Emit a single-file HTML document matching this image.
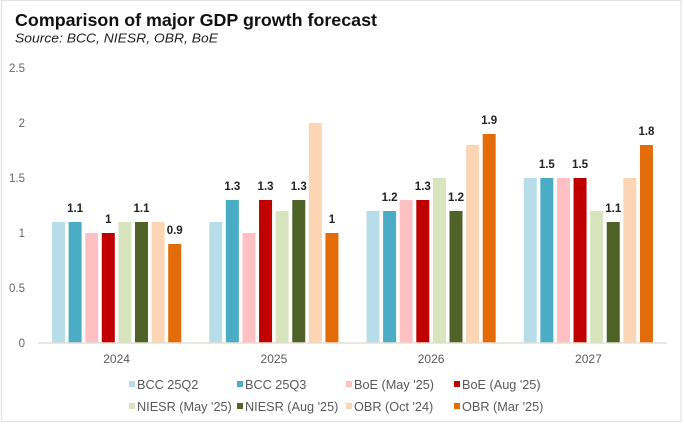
<!DOCTYPE html>
<html><head><meta charset="utf-8"><style>
html,body{margin:0;padding:0;background:#fff;}
svg{display:block;}
</style></head><body>
<svg width="684" height="426" viewBox="0 0 684 426" xmlns="http://www.w3.org/2000/svg" font-family="Liberation Sans, Arial, sans-serif">
<rect x="0" y="0" width="684" height="426" fill="#fff"/>
<rect x="1.5" y="0.5" width="679.5" height="421" fill="#fff" stroke="#e2e2e2" stroke-width="1.2"/>
<text x="15" y="26" font-size="17.4" font-weight="bold" fill="#111" textLength="362" lengthAdjust="spacingAndGlyphs">Comparison of major GDP growth forecast</text>
<text x="15" y="42.3" font-size="12.6" font-style="italic" fill="#222" textLength="203" lengthAdjust="spacingAndGlyphs">Source: BCC, NIESR, OBR, BoE</text>
<g font-size="11.5" fill="#666" text-anchor="end">
<text x="25" y="72">2.5</text>
<text x="25" y="127">2</text>
<text x="25" y="182">1.5</text>
<text x="25" y="237">1</text>
<text x="25" y="292">0.5</text>
<text x="25" y="347">0</text>
</g>
<g id="bars">
<!-- 2024 -->
<rect x="52" y="222" width="13" height="121" fill="#b7dde8"/>
<rect x="68.6" y="222" width="13" height="121" fill="#4bacc6"/>
<rect x="85.2" y="233" width="13" height="110" fill="#ffc0c4"/>
<rect x="101.8" y="233" width="13" height="110" fill="#c00000"/>
<rect x="118.4" y="222" width="13" height="121" fill="#d7e4bd"/>
<rect x="135" y="222" width="13" height="121" fill="#4f6228"/>
<rect x="151.6" y="222" width="13" height="121" fill="#fcd5b5"/>
<rect x="168.2" y="244" width="13" height="99" fill="#e36c09"/>
<!-- 2025 -->
<rect x="209.25" y="222" width="13" height="121" fill="#b7dde8"/>
<rect x="225.85" y="200" width="13" height="143" fill="#4bacc6"/>
<rect x="242.45" y="233" width="13" height="110" fill="#ffc0c4"/>
<rect x="259.05" y="200" width="13" height="143" fill="#c00000"/>
<rect x="275.65" y="211" width="13" height="132" fill="#d7e4bd"/>
<rect x="292.25" y="200" width="13" height="143" fill="#4f6228"/>
<rect x="308.85" y="123" width="13" height="220" fill="#fcd5b5"/>
<rect x="325.45" y="233" width="13" height="110" fill="#e36c09"/>
<!-- 2026 -->
<rect x="366.5" y="211" width="13" height="132" fill="#b7dde8"/>
<rect x="383.1" y="211" width="13" height="132" fill="#4bacc6"/>
<rect x="399.7" y="200" width="13" height="143" fill="#ffc0c4"/>
<rect x="416.3" y="200" width="13" height="143" fill="#c00000"/>
<rect x="432.9" y="178" width="13" height="165" fill="#d7e4bd"/>
<rect x="449.5" y="211" width="13" height="132" fill="#4f6228"/>
<rect x="466.1" y="145" width="13" height="198" fill="#fcd5b5"/>
<rect x="482.7" y="134" width="13" height="209" fill="#e36c09"/>
<!-- 2027 -->
<rect x="523.75" y="178" width="13" height="165" fill="#b7dde8"/>
<rect x="540.35" y="178" width="13" height="165" fill="#4bacc6"/>
<rect x="556.95" y="178" width="13" height="165" fill="#ffc0c4"/>
<rect x="573.55" y="178" width="13" height="165" fill="#c00000"/>
<rect x="590.15" y="211" width="13" height="132" fill="#d7e4bd"/>
<rect x="606.75" y="222" width="13" height="121" fill="#4f6228"/>
<rect x="623.35" y="178" width="13" height="165" fill="#fcd5b5"/>
<rect x="639.95" y="145" width="13" height="198" fill="#e36c09"/>
</g>
<line x1="38" y1="343" x2="667" y2="343" stroke="#e4dfd3" stroke-width="1.5"/>
<g font-size="11.5" font-weight="bold" fill="#222" text-anchor="middle">
<text x="75.1" y="212">1.1</text>
<text x="108.3" y="223">1</text>
<text x="141.5" y="212">1.1</text>
<text x="174.7" y="234">0.9</text>
<text x="232.35" y="190">1.3</text>
<text x="265.55" y="190">1.3</text>
<text x="298.75" y="190">1.3</text>
<text x="331.95" y="223">1</text>
<text x="389.6" y="201">1.2</text>
<text x="422.8" y="190">1.3</text>
<text x="456" y="201">1.2</text>
<text x="489.2" y="124">1.9</text>
<text x="546.85" y="168">1.5</text>
<text x="580.05" y="168">1.5</text>
<text x="613.25" y="212">1.1</text>
<text x="646.45" y="135">1.8</text>
</g>
<g font-size="12" fill="#595959" text-anchor="middle">
<text x="116.6" y="363">2024</text>
<text x="273.9" y="363">2025</text>
<text x="431.1" y="363">2026</text>
<text x="588.4" y="363">2027</text>
</g>
<g font-size="12.7" fill="#595959">
<rect x="129" y="381" width="6" height="6" fill="#b7dde8"/><text x="137" y="389">BCC 25Q2</text>
<rect x="237" y="381" width="6" height="6" fill="#4bacc6"/><text x="245" y="389">BCC 25Q3</text>
<rect x="346" y="381" width="6" height="6" fill="#ffc0c4"/><text x="354" y="389">BoE (May '25)</text>
<rect x="454" y="381" width="6" height="6" fill="#c00000"/><text x="462" y="389">BoE (Aug '25)</text>
<rect x="129" y="403" width="6" height="6" fill="#d7e4bd"/><text x="137" y="411">NIESR (May '25)</text>
<rect x="237" y="403" width="6" height="6" fill="#4f6228"/><text x="245" y="411">NIESR (Aug '25)</text>
<rect x="346" y="403" width="6" height="6" fill="#fcd5b5"/><text x="354" y="411">OBR (Oct '24)</text>
<rect x="454" y="403" width="6" height="6" fill="#e36c09"/><text x="462" y="411">OBR (Mar '25)</text>
</g>
</svg>
</body></html>
